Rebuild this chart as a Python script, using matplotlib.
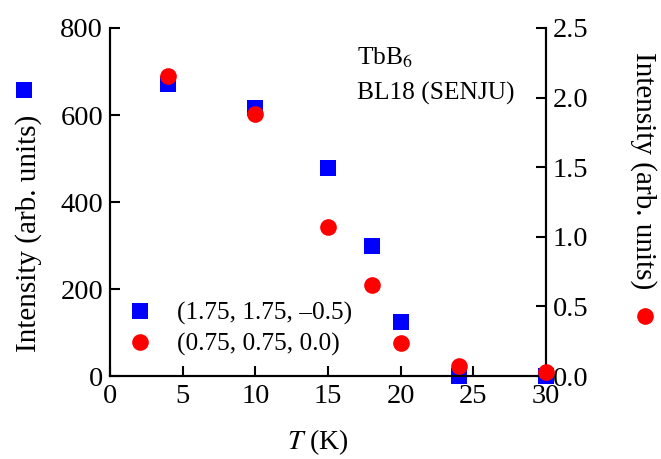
import matplotlib
matplotlib.use("Agg")
from matplotlib import pyplot as plt
from matplotlib.lines import Line2D

plt.rcParams['font.family'] = ['Liberation Serif', 'DejaVu Serif']
plt.rcParams['mathtext.fontset'] = 'stix'

# data
T_blue = [4, 10, 15, 18, 20, 24, 30]
I_blue = [672, 617, 478, 299, 125, 0, 0]          # (1.75, 1.75, -0.5), left axis
T_red = [4, 10, 15, 18, 20, 24, 30]
I_red = [2.155, 1.885, 1.07, 0.655, 0.237, 0.072, 0.03]  # (0.75, 0.75, 0.0), right axis

xticks = [0, 5, 10, 15, 20, 25, 30]
yticks_left = [0, 200, 400, 600, 800]
yticks_right = [0.0, 0.5, 1.0, 1.5, 2.0, 2.5]

fs_tick = 20.5
fs_lab = 21
fs_txt = 18.3
fig = plt.figure(figsize=(6.61, 4.59), dpi=100)
ax = fig.add_axes([0.1664, 0.1808, 0.6596, 0.7582])
ax2 = ax.twinx()

ax.plot(T_blue, I_blue, 's', color='#0000ff', ms=11.5, mew=0, clip_on=False, zorder=3)
ax2.plot(T_red, I_red, 'o', color='#ff0000', ms=12, mew=0, clip_on=False, zorder=3)

ax.set_xlim(0, 30)
ax.set_ylim(0, 800)
ax2.set_ylim(0, 2.5)
ax.set_xticks(xticks)
ax.set_yticks(yticks_left)
ax2.set_yticks(yticks_right)
ax2.set_yticklabels(["%.1f" % v for v in yticks_right])

for a in (ax, ax2):
    a.spines['top'].set_visible(False)
    for s in a.spines.values():
        s.set_linewidth(1.5)
    a.tick_params(direction='in', length=7.5, width=1.5, labelsize=fs_tick, pad=5)
ax.tick_params(axis='x', pad=6)

ax.set_xlabel(r'$T$ (K)', fontsize=fs_lab - 1)
ax.set_ylabel('Intensity (arb. units)', fontsize=fs_lab)
ax2.set_ylabel('Intensity (arb. units)', fontsize=fs_lab, rotation=270)
ax.xaxis.set_label_coords(0.477, -0.148)
ax.yaxis.set_label_coords(-0.156, 0.411)
ax2.yaxis.set_label_coords(1.2546, 0.589)

# markers next to the axis labels
fig.add_artist(Line2D([24 / 661], [1 - 90 / 459], marker='s', color='#0000ff', ms=11.5, mew=0, ls=''))
fig.add_artist(Line2D([645 / 661], [1 - 316 / 459], marker='o', color='#ff0000', ms=12, mew=0, ls=''))

ax.text(0.5665, 0.894, r'TbB$_6$', transform=ax.transAxes, fontsize=fs_txt, va='baseline')
ax.text(0.5665, 0.793, 'BL18 (SENJU)', transform=ax.transAxes, fontsize=fs_txt, va='baseline')

handles = [Line2D([], [], marker='s', color='#0000ff', ms=11.5, mew=0, ls=''),
           Line2D([], [], marker='o', color='#ff0000', ms=12, mew=0, ls='')]
ax2.legend(handles, ['(1.75, 1.75, \u20130.5)', '(0.75, 0.75, 0.0)'], loc='lower left',
           bbox_to_anchor=(0.0, 0.005), frameon=False, fontsize=fs_txt,
           handlelength=1.0, handletextpad=0.95, labelspacing=0.33, borderaxespad=0.3)

fig.savefig("out.png", dpi=100)
